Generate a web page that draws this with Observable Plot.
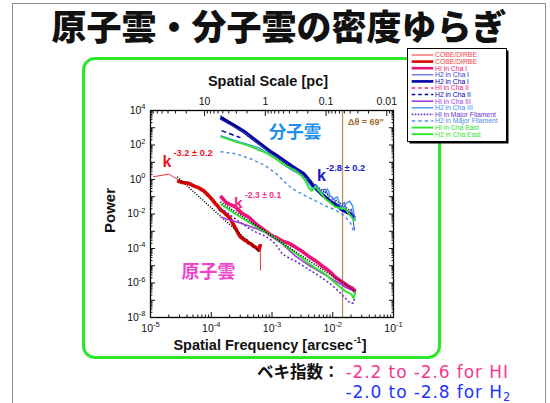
<!DOCTYPE html>
<html>
<head>
<meta charset="utf-8">
<script src="https://cdn.jsdelivr.net/npm/d3@7"></script>
<script src="https://cdn.jsdelivr.net/npm/@observablehq/plot@0.6"></script>
<style>
  html,body{margin:0;padding:0;background:#fff;}
  #slide{position:relative;width:550px;height:403px;overflow:hidden;background:#fff;}
  #border{position:absolute;left:12px;top:3px;width:534px;height:440px;border:1.5px solid #8c8c8c;box-sizing:border-box;}
  #greenbox{position:absolute;left:82px;top:57px;width:359px;height:302px;border:3.5px solid #2ee62e;border-radius:13px;box-sizing:border-box;}
  #plot{position:absolute;left:0;top:0;width:550px;height:403px;}
  #overlay{position:absolute;left:0;top:0;}
  #legend{position:absolute;left:407px;top:48px;}
</style>
</head>
<body>
<div id="slide">
  <div id="border"></div>
  <div id="greenbox"></div>
  <div id="plot"></div>
  <svg id="overlay" width="550" height="403"></svg>
  <svg id="legend" width="104" height="98"></svg>
</div>
<script>
// ---------- constants / tick labels ----------
const distancePc = 160;          // distance used for the top (pc) axis
const arcsecPerRad = 206265;
const deltaTheta = 69;           // beam size, arcsec
const xDomain = [1e-5, 1e-1];
const yDomain = [1e-8, 1e4];
const xTickExponents = [-5, -4, -3, -2, -1];
const yTickExponents = [-8, -7, -6, -5, -4, -3, -2, -1, 0, 1, 2, 3, 4];
const yLabelExponents = [-8, -6, -4, -2, 0, 2, 4];
const topScalePc = [10, 1, 0.1, 0.01];
const topScaleLabels = ["10", "1", "0.1", "0.01"];

// ---------- series: [log10 frequency (arcsec^-1), log10 power] ----------
const cobeThin = [[-4.956,0.156],[-4.699,0.313],[-4.56,0.02],[-4.37,-0.24],[-4.205,-0.50],[-4.04,-0.96],[-3.93,-1.43],[-3.765,-2.01],[-3.601,-2.83],[-3.453,-3.53],[-3.305,-3.88],[-3.215,-4.10],[-3.195,-3.75],[-3.188,-5.28]];
const cobeThick = [[-4.56,-0.077],[-4.478,-0.176],[-4.37,-0.222],[-4.287,-0.368],[-4.205,-0.485],[-4.123,-0.659],[-4.04,-0.95],[-3.979,-1.183],[-3.93,-1.416],[-3.89,-1.55],[-3.848,-1.766],[-3.80,-1.86],[-3.765,-1.999],[-3.72,-2.12],[-3.683,-2.29],[-3.64,-2.58],[-3.601,-2.814],[-3.56,-3.10],[-3.519,-3.338],[-3.49,-3.40],[-3.453,-3.513],[-3.42,-3.55],[-3.387,-3.688],[-3.35,-3.72],[-3.305,-3.862],[-3.26,-3.95],[-3.222,-4.095],[-3.20,-3.90],[-3.189,-3.746]];
const cobeFit = [[-4.56,0.156],[-3.217,-4.154]];

const hiChaI = [[-3.848,-0.95],[-3.75,-1.36],[-3.601,-1.591],[-3.50,-1.95],[-3.387,-2.174],[-3.25,-2.62],[-3.107,-2.989],[-3.02,-3.22],[-2.942,-3.338],[-2.827,-3.571],[-2.72,-3.70],[-2.613,-3.921],[-2.50,-4.18],[-2.399,-4.445],[-2.28,-4.72],[-2.169,-5.028],[-2.06,-5.30],[-1.955,-5.668],[-1.85,-5.92],[-1.741,-6.192],[-1.68,-6.30],[-1.642,-6.425],[-1.626,-6.483]];
const hiFit = [[-3.848,-1.30],[-1.626,-6.483]];
const hiChaII = [[-3.848,-1.067],[-3.70,-1.38],[-3.519,-1.649]];
const hiChaIII = [[-3.848,-2.174],[-3.70,-2.35],[-3.519,-2.523],[-3.38,-2.70],[-3.239,-2.872],[-3.11,-3.08],[-2.992,-3.338],[-2.827,-3.746],[-2.72,-4.10],[-2.613,-4.445],[-2.50,-4.72],[-2.399,-4.969],[-2.28,-5.20],[-2.169,-5.435],[-2.06,-5.66],[-1.955,-5.901],[-1.87,-6.06],[-1.790,-6.250],[-1.70,-6.40],[-1.658,-6.483],[-1.626,-6.658]];
const hiMajorFil = [[-3.848,-1.649],[-3.72,-1.97],[-3.601,-2.29],[-3.387,-2.814],[-3.25,-3.08],[-3.107,-3.28],[-3.02,-3.50],[-2.942,-3.746],[-2.827,-4.328],[-2.72,-4.55],[-2.613,-4.736],[-2.50,-4.98],[-2.399,-5.202],[-2.28,-5.46],[-2.169,-5.726],[-2.06,-6.00],[-1.955,-6.309],[-1.87,-6.60],[-1.790,-6.891],[-1.708,-7.18],[-1.66,-7.15],[-1.642,-6.891]];
const hiChaEast = [[-3.848,-1.416],[-3.601,-1.999],[-3.387,-2.465],[-3.25,-2.76],[-3.107,-3.047],[-2.942,-3.397],[-2.83,-3.70],[-2.728,-3.979],[-2.613,-4.270],[-2.498,-4.561],[-2.399,-4.853],[-2.284,-5.144],[-2.20,-5.30],[-2.119,-5.493],[-2.03,-5.78],[-1.955,-6.017],[-1.87,-6.26],[-1.790,-6.483],[-1.691,-6.658],[-1.658,-6.891],[-1.626,-6.483]];

const h2ChaIThick = [[-3.848,3.592],[-3.75,3.39],[-3.650,3.185],[-3.54,2.95],[-3.436,2.719],[-3.33,2.42],[-3.222,2.136],[-3.12,1.86],[-3.025,1.612],[-2.92,1.37],[-2.827,1.146],[-2.74,0.93],[-2.663,0.738],[-2.57,0.53],[-2.481,0.331],[-2.40,0.0],[-2.333,-0.310],[-2.25,-0.60],[-2.169,-0.892],[-2.09,-1.12],[-2.004,-1.358],[-1.92,-1.53],[-1.839,-1.766],[-1.79,-1.85],[-1.741,-1.941],[-1.70,-2.02],[-1.642,-2.232]];
const h2Fit = [[-3.848,3.709],[-1.708,-1.824]];
const h2ChaIThin = [[-3.848,3.48],[-3.65,3.10],[-3.436,2.66],[-3.222,2.08],[-3.025,1.55],[-2.827,1.08],[-2.663,0.68],[-2.531,0.42],[-2.45,0.10],[-2.366,0.0],[-2.30,-0.35],[-2.235,-0.66],[-2.169,-0.60],[-2.119,-0.55],[-2.07,-1.0],[-2.037,-1.24],[-1.988,-1.10],[-1.938,-1.42],[-1.872,-1.82],[-1.839,-1.45],[-1.806,-1.30],[-1.774,-1.75],[-1.741,-2.06],[-1.708,-1.75],[-1.691,-1.71],[-1.658,-2.52],[-1.642,-2.95]];
const h2ChaII = [[-3.831,2.835],[-3.67,2.62],[-3.519,2.427]];
const h2ChaIII = [[-3.848,2.544],[-3.601,2.253],[-3.40,2.03],[-3.222,1.845],[-3.02,1.42],[-2.827,0.913],[-2.70,0.60],[-2.564,0.331],[-2.449,0.040],[-2.38,-0.30],[-2.333,-0.543],[-2.267,-0.310],[-2.22,-0.60],[-2.169,-0.834],[-2.12,-0.70],[-2.086,-0.543],[-2.04,-0.95],[-1.988,-1.125],[-1.922,-1.009],[-1.89,-1.40],[-1.856,-1.708],[-1.82,-1.60],[-1.790,-1.416],[-1.724,-1.242],[-1.675,-1.533],[-1.626,-2.406]];
const h2MajorFil = [[-3.848,1.612],[-3.601,1.496],[-3.354,1.204],[-3.107,0.797],[-2.926,0.331],[-2.778,-0.193],[-2.663,-0.543],[-2.481,-0.892],[-2.284,-1.242],[-2.119,-1.533],[-1.955,-1.766],[-1.823,-2.057],[-1.708,-2.523],[-1.642,-3.105]];
const h2ChaEast = [[-3.848,2.486],[-3.601,2.195],[-3.387,1.962],[-3.107,1.554],[-2.95,1.24],[-2.827,0.913],[-2.613,0.506],[-2.52,0.25],[-2.449,-0.077],[-2.40,-0.45],[-2.350,-0.659],[-2.284,-0.426],[-2.20,-0.78],[-2.119,-1.125],[-2.04,-1.35],[-1.955,-1.591],[-1.87,-1.66],[-1.790,-1.708],[-1.691,-2.174],[-1.642,-2.406]];

// legend entries (names) in reference order
const legendKeys = ["cobeThin","cobeThick","hiChaI","h2ChaIThin","h2ChaIThick","hiChaII","h2ChaII","hiChaIII","h2ChaIII","hiMajorFil","h2MajorFil","hiChaEast","h2ChaEast"];
const legendLabels = ["COBE/DIRBE","COBE/DIRBE","HI in Cha I","H2 in Cha I","H2 in Cha I","HI in Cha II","H2 in Cha II","HI in Cha III","H2 in Cha III","HI in Major Filament","H2 in Major Filament","HI in Cha East","H2 in Cha East"];

// ---------- styles (kept apart from data) ----------
const seriesData = {cobeThin, cobeThick, cobeFit, hiChaI, hiFit, hiChaII, hiChaIII, hiMajorFil, hiChaEast,
  h2ChaIThick, h2Fit, h2ChaIThin, h2ChaII, h2ChaIII, h2MajorFil, h2ChaEast};
const style = {
  cobeThin:   {stroke:"#f03030", w:1},
  cobeThick:  {stroke:"#d80000", w:3.6},
  cobeFit:    {stroke:"#000", w:1.6, dash:"1,1.6"},
  hiChaI:     {stroke:"#ee1177", w:3.6},
  hiFit:      {stroke:"#000", w:1.6, dash:"1,1.6"},
  hiChaII:    {stroke:"#ee2288", w:1.5, dash:"4,3"},
  hiChaIII:   {stroke:"#a53ae0", w:1.6},
  hiMajorFil: {stroke:"#6633cc", w:1.6, dash:"2,2.2"},
  hiChaEast:  {stroke:"#2ee62e", w:1.9},
  h2ChaIThick:{stroke:"#0000a8", w:3.6},
  h2Fit:      {stroke:"#000", w:1.6, dash:"1,1.6"},
  h2ChaIThin: {stroke:"#3344cc", w:1},
  h2ChaII:    {stroke:"#0000b0", w:1.5, dash:"5,3"},
  h2ChaIII:   {stroke:"#3a8cff", w:1.3},
  h2MajorFil: {stroke:"#4d8fee", w:1.5, dash:"3,3"},
  h2ChaEast:  {stroke:"#2ee62e", w:1.9}
};
const legendTextColor = {cobeThin:"#f04040", cobeThick:"#f04040"};
const drawOrder = ["cobeThin","cobeThick","cobeFit",
  "hiMajorFil","hiChaIII","hiChaII","hiChaI","hiChaEast","hiFit",
  "h2MajorFil","h2ChaII","h2ChaIThick","h2Fit","h2ChaIThin","h2ChaIII","h2ChaEast"];

// ---------- helpers ----------
const toRows = arr => arr.map(([lf, lp]) => ({f: 10 ** lf, p: 10 ** lp}));
const pcToFreq = pc => distancePc / (pc * arcsecPerRad);
const powFmt = d => "10^" + Math.round(Math.log10(d));
const none = () => "";

const xMajor = xTickExponents.map(e => 10 ** e);
const xMinor = [];
for (let e = -5; e < -1; e++) for (let m = 2; m <= 9; m++) xMinor.push(m * 10 ** e);
const yMajor = yTickExponents.map(e => 10 ** e);
const yMinor = [];
for (let e = -8; e < 4; e++) for (let m = 2; m <= 9; m++) yMinor.push(m * 10 ** e);
const yLabels = yLabelExponents.map(e => 10 ** e);
const topMajor = topScalePc.map(pcToFreq);
const topRows = topScalePc.map((pc, i) => ({f: pcToFreq(pc), label: topScaleLabels[i]}));
const topMinor = [];
for (let e = -3; e <= 1; e++) for (let m = 2; m <= 9; m++) {
  const f = pcToFreq(m * 10 ** e);
  if (f >= xDomain[0] && f <= xDomain[1]) topMinor.push(f);
}

const lineMarks = drawOrder.map(k => Plot.line(toRows(seriesData[k]), {
  x: "f", y: "p", stroke: style[k].stroke, strokeWidth: style[k].w,
  strokeDasharray: style[k].dash, strokeLinejoin: "round", strokeLinecap: "butt"
}));

const plot = Plot.plot({
  width: 550, height: 403,
  marginLeft: 150, marginRight: 157, marginTop: 110, marginBottom: 86,
  style: {background: "transparent", fontFamily: "'Liberation Sans', Arial, sans-serif", fontSize: "10.5px", color: "#111", overflow: "visible"},
  x: {type: "log", domain: xDomain},
  y: {type: "log", domain: yDomain},
  marks: [
    Plot.ruleX([1 / deltaTheta], {stroke: "#b8925e", strokeWidth: 1.3}),
    ...lineMarks,
    Plot.frame({stroke: "#000", strokeWidth: 1.3}),
    Plot.axisX({anchor: "bottom", ticks: xMajor, tickSize: -5, tickFormat: none, label: null}),
    Plot.axisX({anchor: "bottom", ticks: xMinor, tickSize: -2.5, tickFormat: none, label: null}),
    Plot.axisX({anchor: "bottom", ticks: xMajor, tickSize: 0, tickPadding: 7, tickFormat: powFmt, label: null}),
    Plot.axisX({anchor: "top", ticks: topMajor, tickSize: -5, tickFormat: none, label: null}),
    Plot.axisX({anchor: "top", ticks: topMinor, tickSize: -2.5, tickFormat: none, label: null}),
    Plot.text(topRows, {x: "f", text: "label", frameAnchor: "top", lineAnchor: "bottom", dy: -6,
      fontSize: 10.5, fill: "#111"}),
    Plot.axisY({anchor: "left", ticks: yMajor, tickSize: -5, tickFormat: none, label: null}),
    Plot.axisY({anchor: "left", ticks: yMinor, tickSize: -2.5, tickFormat: none, label: null}),
    Plot.axisY({anchor: "left", ticks: yLabels, tickSize: 0, tickPadding: 5, tickFormat: powFmt, label: null}),
    Plot.axisY({anchor: "right", ticks: yMajor, tickSize: -5, tickFormat: none, label: null}),
    Plot.axisY({anchor: "right", ticks: yMinor, tickSize: -2.5, tickFormat: none, label: null})
  ]
});
// superscript exponents on tick labels
const svgNS = "http://www.w3.org/2000/svg";
plot.querySelectorAll("text").forEach(t => {
  const m = /^10\^(-?\d+)$/.exec(t.textContent);
  if (m) {
    t.textContent = "10";
    const ts = document.createElementNS(svgNS, "tspan");
    ts.setAttribute("dy", "-4.5");
    ts.setAttribute("font-size", "7.5px");
    ts.textContent = m[1];
    t.appendChild(ts);
  }
});
document.getElementById("plot").appendChild(plot);

// ---------- overlay texts ----------
const ov = d3.select("#overlay");
const SANS = "'Liberation Sans', Arial, sans-serif";
const CJK = "'Noto Sans CJK JP', sans-serif";
function txt(x, y, s, o = {}) {
  return ov.append("text").attr("x", x).attr("y", y).text(s)
    .attr("font-family", o.family || SANS).attr("font-size", o.size || 12)
    .attr("font-weight", o.weight || "bold").attr("fill", o.fill || "#111")
    .attr("text-anchor", o.anchor || "start");
}
txt(279, 40, "原子雲・分子雲の密度ゆらぎ", {family: CJK, size: 35, weight: 900, anchor: "middle"});
txt(268, 86, "Spatial Scale [pc]", {size: 14.5, anchor: "middle"});
const xl = txt(270, 349.5, "Spatial Frequency [arcsec", {size: 14.5, anchor: "middle"});
xl.append("tspan").attr("dx", 0.5).attr("dy", -7).attr("font-size", 8.5).text("-1");
xl.append("tspan").attr("dx", 0.5).attr("dy", 7).text("]");
ov.append("text").attr("transform", "translate(115,210.5) rotate(-90)").attr("text-anchor", "middle")
  .attr("font-family", SANS).attr("font-size", 15).attr("font-weight", "bold").attr("fill", "#111").text("Power");

txt(162.5, 166.5, "k", {size: 16, fill: "#e8181e"});
txt(173.5, 155.5, "-3.2 ± 0.2", {size: 9.3, fill: "#e8181e"});
txt(234, 207.5, "k", {size: 15.5, fill: "#ee2f8a"});
txt(245, 197.5, "-2.3 ± 0.1", {size: 8.6, fill: "#ee2f8a"});
txt(317, 181, "k", {size: 16, fill: "#1717c8"});
txt(326, 171, "-2.8 ± 0.2", {size: 9.3, fill: "#1717c8"});
txt(295, 138, "分子雲", {family: CJK, size: 17.5, fill: "#1f90ee", anchor: "middle"});
txt(208.5, 277.5, "原子雲", {family: CJK, size: 18, fill: "#ee44cc", anchor: "middle"});
txt(348, 125, "Δθ = 69\"", {size: 9, fill: "#a06a30"});

txt(257, 378, "ベキ指数：", {family: CJK, size: 16.5});
const LAT = "'DejaVu Sans', sans-serif";
txt(345.5, 378, "-2.2 to -2.6 for HI", {family: LAT, size: 17, weight: "normal", fill: "#f5388f"}).attr("letter-spacing", 0.9);
const l2 = txt(345.5, 398, "-2.0 to -2.8 for H", {family: LAT, size: 17, weight: "normal", fill: "#2233ff"}).attr("letter-spacing", 0.9);
l2.append("tspan").attr("font-size", 11.5).attr("dy", 3).text("2");

// ---------- legend ----------
const lg = d3.select("#legend");
lg.append("rect").attr("x", 2.5).attr("y", 2.5).attr("width", 99).attr("height", 93).attr("fill", "#000");
lg.append("rect").attr("x", 0.5).attr("y", 0.5).attr("width", 99).attr("height", 93).attr("fill", "#fff").attr("stroke", "#000");
legendKeys.forEach((k, i) => {
  const cy = 7 + i * 6.6;
  const s = style[k];
  lg.append("line").attr("x1", 4.7).attr("x2", 26.3).attr("y1", cy).attr("y2", cy)
    .attr("stroke", s.stroke).attr("stroke-width", Math.min(s.w, 2.6))
    .attr("stroke-dasharray", s.dash ? (k === "hiMajorFil" ? "1.6,1.4" : "3.5,3") : null);
  lg.append("text").attr("x", 28).attr("y", cy + 2.4).attr("font-family", SANS).attr("font-size", 6.8)
    .attr("fill", legendTextColor[k] || s.stroke).text(legendLabels[i]);
});
</script>
</body>
</html>
